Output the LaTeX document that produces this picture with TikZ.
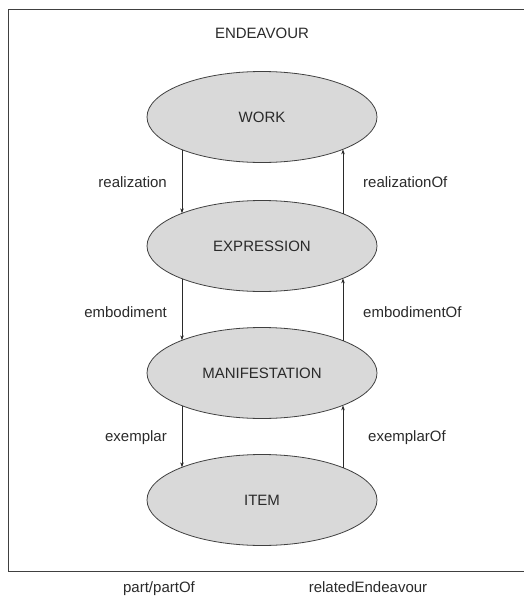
\documentclass[tikz,border=0pt]{standalone}
\usepackage{fontspec}
\setmainfont{Liberation Sans}
\usetikzlibrary{shapes.geometric,arrows.meta}
\definecolor{ink}{HTML}{2A2A2A}
\definecolor{efill}{HTML}{D9D9D9}
\definecolor{eline}{HTML}{404040}
\tikzset{
  x=1pt, y=-1pt,
  ent/.style={ellipse, draw=eline, fill=efill, line width=0.8pt, minimum width=230pt, minimum height=91pt, inner sep=0pt, outer sep=0pt, text=ink, font=\fontsize{15}{18}\selectfont},
  lbl/.style={text=ink, font=\fontsize{15}{18}\selectfont, inner sep=0pt},
  rel/.style={draw=ink, line width=0.6pt, -{Stealth[length=5pt,width=3.5pt]}}
}
\begin{document}
\begin{tikzpicture}
\useasboundingbox (0,0) rectangle (523,605);
\draw[draw=eline, line width=0.9pt] (8,9) -- (530,9) (8,9) -- (8,571) -- (530,571);
\node[lbl, anchor=base] (endeavour) at (262,38) {ENDEAVOUR};
\node[ent] (work) at (262,117) {WORK};
\node[ent] (expr) at (262,246) {EXPRESSION};
\node[ent] (mani) at (262,373) {MANIFESTATION};
\node[ent] (item) at (262,500) {ITEM};
\draw[rel] ([shift={(-80,32.7)}]work.center) -- ([shift={(-80,-32.7)}]expr.center);
\draw[rel] ([shift={(81,-32.4)}]expr.center) -- ([shift={(81,32.4)}]work.center);
\draw[rel] ([shift={(-80,32.7)}]expr.center) -- ([shift={(-80,-32.7)}]mani.center);
\draw[rel] ([shift={(81,-32.4)}]mani.center) -- ([shift={(81,32.4)}]expr.center);
\draw[rel] ([shift={(-80,32.7)}]mani.center) -- ([shift={(-80,-32.7)}]item.center);
\draw[rel] ([shift={(81,-32.4)}]item.center) -- ([shift={(81,32.4)}]mani.center);
\node[lbl, anchor=base east] (l1) at (167,187) {realization};
\node[lbl, anchor=base west] (r1) at (363,187) {realizationOf};
\node[lbl, anchor=base east] (l2) at (167,317) {embodiment};
\node[lbl, anchor=base west] (r2) at (363,317) {embodimentOf};
\node[lbl, anchor=base east] (l3) at (167,441) {exemplar};
\node[lbl, anchor=base west] (r3) at (368,441) {exemplarOf};
\node[lbl, anchor=base] (partof) at (159,592) {part/partOf};
\node[lbl, anchor=base] (related) at (368,592) {relatedEndeavour};
\end{tikzpicture}
\end{document}
